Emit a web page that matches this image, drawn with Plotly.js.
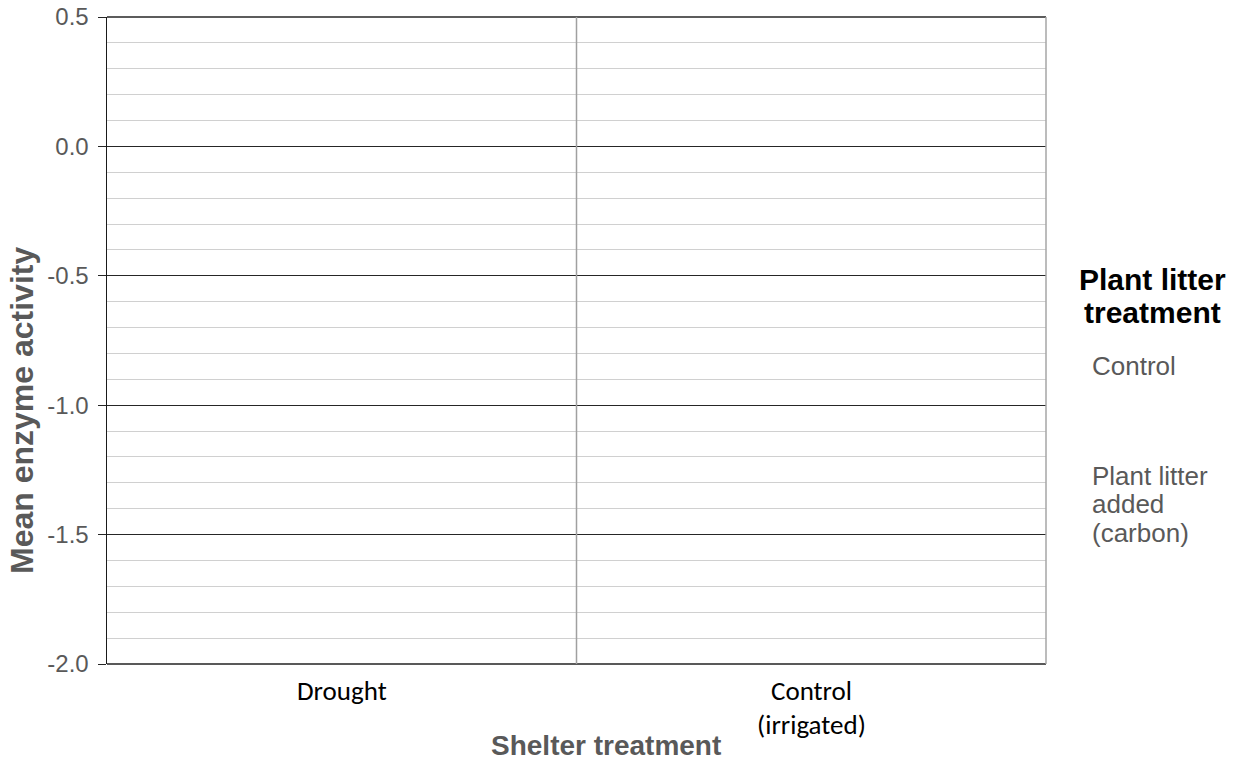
<!DOCTYPE html>
<html>
<head>
<meta charset="utf-8">
<script src="https://cdn.plot.ly/plotly-3.0.1.min.js"></script>
<style>
html,body{margin:0;padding:0;background:#fff;}
#chart{width:1240px;height:763px;}
</style>
</head>
<body>
<div id="chart"></div>
<script>
// Categories (shelter treatment)
const categories = ["Drought", "Control (irrigated)"];
const categoryLabelLines = [["Drought"], ["Control", "(irrigated)"]];
// Series (plant litter treatment) - the chart is an empty template, no values plotted
const seriesNames = ["Control", "Plant litter added (carbon)"];
const seriesLabelLines = [["Control"], ["Plant litter", "added", "(carbon)"]];
const legendTitleLines = ["Plant litter", "treatment"];
const seriesControl = [null, null];
const seriesLitter = [null, null];
// Y axis ticks
const yTickVals = [0.5, 0.0, -0.5, -1.0, -1.5, -2.0];
const yTickText = ["0.5", "0.0", "-0.5", "-1.0", "-1.5", "-2.0"];
const yRange = [-2.0, 0.5];
const xTitle = "Shelter treatment";
const yTitle = "Mean enzyme activity";

const L = 107, R = 1046, T = 17, B = 664;
const W = 1240, H = 763;
const pw = R - L, ph = B - T;
const px = x => (x - L) / pw;
const py = y => (B - y) / ph;

const traces = [
  {type: "bar", name: seriesNames[0], x: categories, y: seriesControl, showlegend: false, marker: {color: "#5B9BD5"}},
  {type: "bar", name: seriesNames[1], x: categories, y: seriesLitter, showlegend: false, marker: {color: "#ED7D31"}}
];

const axisFont = "Arial, 'Liberation Sans', sans-serif";
const catFont = "Carlito, Calibri, Lato, sans-serif";

const annotations = [
  {text: "<b>" + yTitle + "</b>", textangle: -90, xref: "paper", yref: "paper",
   x: px(22), y: py(411), xanchor: "center", yanchor: "middle", showarrow: false,
   font: {family: axisFont, size: 32, color: "#595959"}},
  {text: "<b>" + xTitle + "</b>", xref: "paper", yref: "paper",
   x: px(606), y: py(745), xanchor: "center", yanchor: "middle", showarrow: false,
   font: {family: axisFont, size: 28, color: "#595959"}}
];
// category labels below the axis, one annotation per line
const catLineY = [690, 724];
categoryLabelLines.forEach((lines, i) => {
  lines.forEach((t, j) => {
    annotations.push({text: t, xref: "x", yref: "paper", x: categories[i], y: py(catLineY[j]),
      xanchor: "center", yanchor: "middle", showarrow: false,
      font: {family: catFont, size: 27, color: "#000"}});
  });
});
// legend title
const titleLineY = [279, 312];
legendTitleLines.forEach((t, j) => {
  annotations.push({text: "<b>" + t + "</b>", xref: "paper", yref: "paper", x: px(1152), y: py(titleLineY[j]),
    xanchor: "center", yanchor: "middle", showarrow: false,
    font: {family: axisFont, size: 30, color: "#000"}});
});
// legend entries
const entryLineY = [[366], [476, 504, 533]];
seriesLabelLines.forEach((lines, i) => {
  lines.forEach((t, j) => {
    annotations.push({text: t, xref: "paper", yref: "paper", x: px(1090), y: py(entryLineY[i][j]),
      xanchor: "left", yanchor: "middle", showarrow: false,
      font: {family: axisFont, size: 26, color: "#595959"}});
  });
});

const layout = {
  width: W, height: H,
  margin: {l: L, r: W - R, t: T, b: H - B, pad: 0},
  paper_bgcolor: "#fff", plot_bgcolor: "#fff",
  font: {family: axisFont},
  showlegend: false,
  barmode: "group",
  xaxis: {
    type: "category",
    range: [-0.5, 1.5],
    tickvals: categories,
    showticklabels: false,
    showgrid: false, zeroline: false, showline: false,
    ticks: "", fixedrange: true
  },
  yaxis: {
    range: yRange,
    tickvals: yTickVals,
    ticktext: yTickText,
    tickfont: {family: axisFont, size: 24, color: "#595959"},
    showgrid: true, gridcolor: "#262626", gridwidth: 1,
    zeroline: true, zerolinecolor: "#262626", zerolinewidth: 1,
    showline: true, linecolor: "#1a1a1a", linewidth: 1.5,
    ticks: "outside", ticklen: 8, tickcolor: "#262626", tickwidth: 1,
    ticklabelstandoff: 4,
    minor: {dtick: 0.1, showgrid: true, gridcolor: "#d0d0d0", gridwidth: 1, ticks: ""},
    fixedrange: true
  },
  shapes: [
    {type: "line", xref: "paper", yref: "paper", x0: 0, x1: 1, y0: 1, y1: 1, line: {color: "#262626", width: 1.5}},
    {type: "line", xref: "paper", yref: "paper", x0: 0, x1: 1, y0: 0, y1: 0, line: {color: "#595959", width: 2}},
    {type: "line", xref: "paper", yref: "paper", x0: 1, x1: 1, y0: 0, y1: 1, line: {color: "#a6a6a6", width: 1.5}},
    {type: "line", xref: "x", yref: "paper", x0: 0.5, x1: 0.5, y0: 0, y1: 1, line: {color: "#a0a0a0", width: 1.5}}
  ],
  annotations: annotations
};

Plotly.newPlot("chart", traces, layout, {displayModeBar: false, staticPlot: true});
</script>
</body>
</html>
